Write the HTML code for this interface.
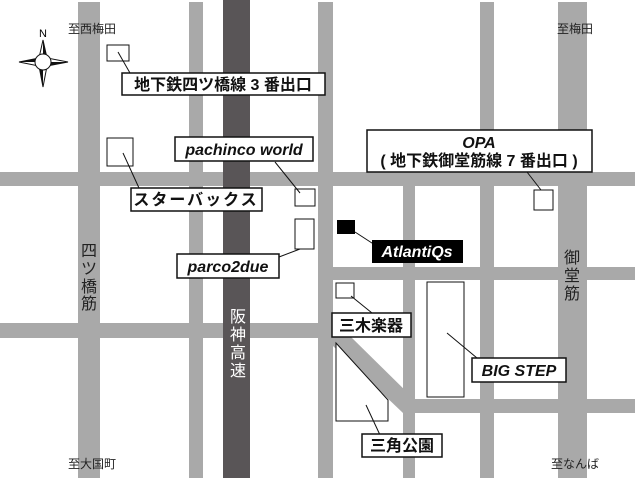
<!DOCTYPE html>
<html><head><meta charset="utf-8"><style>
body{margin:0;background:#fff;}
svg text{font-family:"Liberation Sans","Noto Sans CJK JP",sans-serif;}
.lb{font-weight:bold;font-size:16px;fill:#111;}
.en{font-weight:bold;font-style:italic;font-size:16px;fill:#111;}
.sm{font-size:12px;fill:#222;}
.vt{font-size:16px;fill:#222;}
</style></head><body>
<svg width="640" height="480" viewBox="0 0 640 480" xmlns="http://www.w3.org/2000/svg">
<rect width="640" height="480" fill="#fff"/>
<g fill="#a9a9a9">
<rect x="78" y="2" width="22" height="476"/>
<rect x="189" y="2" width="14" height="476"/>
<rect x="318" y="2" width="15" height="476"/>
<rect x="480" y="2" width="14" height="476"/>
<rect x="558" y="2" width="29" height="476"/>
<rect x="403" y="185" width="12" height="293"/>
<rect x="0" y="172" width="635" height="14"/>
<rect x="0" y="323" width="318" height="15"/>
<rect x="333" y="267" width="302" height="13"/>
<rect x="403" y="399" width="232" height="14"/>
<polygon points="333,336 350,336 415,400 415,413 403,413 333,346"/>
</g>
<rect x="223" y="0" width="27" height="478" fill="#595557"/>
<g fill="#fff" stroke="#111" stroke-width="1">
<rect x="107" y="45" width="22" height="16"/>
<rect x="107" y="138" width="26" height="28"/>
<rect x="295" y="189" width="20" height="17"/>
<rect x="295" y="219" width="19" height="30"/>
<rect x="534" y="190" width="19" height="20"/>
<rect x="336" y="283" width="18" height="15"/>
<rect x="427" y="282" width="37" height="115"/>
<polygon points="336,343 388,400 388,421 336,421"/>
</g>
<rect x="337" y="220" width="18" height="14" fill="#000"/>
<g stroke="#111" stroke-width="1">
<line x1="118" y1="52" x2="130" y2="73"/>
<line x1="123" y1="153" x2="139" y2="188"/>
<line x1="275" y1="162" x2="300" y2="193"/>
<line x1="300" y1="249" x2="279" y2="257"/>
<line x1="527" y1="172" x2="541" y2="190"/>
<line x1="355" y1="232" x2="375" y2="245"/>
<line x1="351" y1="296" x2="372" y2="313"/>
<line x1="447" y1="333" x2="477" y2="358"/>
<line x1="366" y1="405" x2="380" y2="435"/>
</g>
<g fill="#fff" stroke="#111" stroke-width="1.5">
<rect x="122" y="73" width="203" height="22"/>
<rect x="175" y="137" width="138" height="24"/>
<rect x="131" y="188" width="131" height="23"/>
<rect x="177" y="254" width="102" height="24"/>
<rect x="367" y="130" width="225" height="42"/>
<rect x="332" y="313" width="79" height="24"/>
<rect x="472" y="358" width="94" height="24"/>
<rect x="362" y="434" width="80" height="23"/>
</g>
<rect x="372" y="240" width="91" height="23" fill="#000"/>
<text class="lb" x="223" y="90" text-anchor="middle">地下鉄四ツ橋線 3 番出口</text>
<text class="en" x="244" y="155" text-anchor="middle">pachinco world</text>
<text class="lb" x="196" y="205" text-anchor="middle" letter-spacing="2">スターバックス</text>
<text class="en" x="228" y="272" text-anchor="middle">parco2due</text>
<text class="en" x="479" y="148" text-anchor="middle">OPA</text>
<text class="lb" x="479" y="166" text-anchor="middle">( 地下鉄御堂筋線 7 番出口 )</text>
<text class="en" x="417" y="257" text-anchor="middle" fill="#fff" style="fill:#fff">AtlantiQs</text>
<text class="lb" x="371" y="331" text-anchor="middle">三木楽器</text>
<text class="en" x="519" y="376" text-anchor="middle">BIG STEP</text>
<text class="lb" x="402" y="451" text-anchor="middle">三角公園</text>
<text class="sm" x="68" y="33">至西梅田</text>
<text class="sm" x="557" y="33">至梅田</text>
<text class="sm" x="68" y="468">至大国町</text>
<text class="sm" x="551" y="468">至なんば</text>
<g class="vt" text-anchor="middle">
<text x="89" y="256">四</text><text x="89" y="274">ツ</text><text x="89" y="292">橋</text><text x="89" y="309">筋</text>
<text x="238" y="322" style="fill:#fff">阪</text><text x="238" y="340" style="fill:#fff">神</text><text x="238" y="358" style="fill:#fff">高</text><text x="238" y="376" style="fill:#fff">速</text>
<text x="572" y="263">御</text><text x="572" y="281">堂</text><text x="572" y="299">筋</text>
</g>
<text x="43" y="37" font-size="11" text-anchor="middle" font-family="Liberation Serif,serif">N</text>
<polygon points="43,40 47,58 68,62 47,66 43,87 39,66 19,62 39,58" fill="#fff" stroke="#111"/>
<polygon points="43,40 47,58 43,62" fill="#111"/>
<polygon points="68,62 47,66 43,62" fill="#111"/>
<polygon points="43,87 39,66 43,62" fill="#111"/>
<polygon points="19,62 39,58 43,62" fill="#111"/>
<circle cx="43" cy="62" r="8" fill="#fff" stroke="#111"/>
</svg>
</body></html>
